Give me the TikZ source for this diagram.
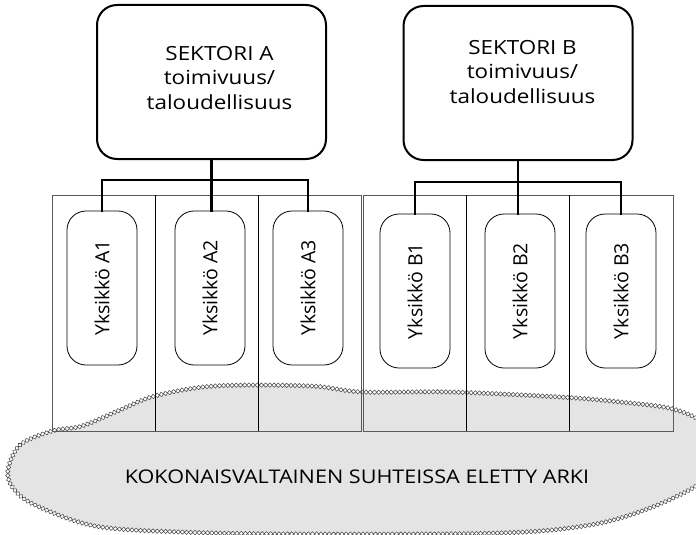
\documentclass[tikz,border=0pt]{standalone}
\usepackage{fontspec}
\setmainfont{Open Sans}
\newfontfamily\widesans[FakeStretch=1.15]{Open Sans}
\usetikzlibrary{decorations.shapes,shapes.geometric}
\definecolor{cloudfill}{HTML}{E4E4E4}
\definecolor{framegray}{HTML}{5A5A5A}
\definecolor{beadgray}{HTML}{4A4A4A}
\begin{document}
\begin{tikzpicture}[x=1pt,y=-1pt,
  sector/.style={draw, line width=2pt, rounded corners=20pt,
    minimum width=229pt, minimum height=154pt, inner sep=0pt},
  sectortext/.style={inner sep=0pt, align=center,
    font=\widesans\fontsize{19.5}{24.5}\selectfont},
  unitbox/.style={draw, line width=0.8pt, rounded corners=19pt,
    minimum width=70pt, minimum height=154pt, inner sep=0pt,
    font=\fontsize{19.5}{22}\selectfont},
  conn/.style={line width=2.6pt, line cap=rect},
  frame/.style={draw=framegray, line width=0.9pt},
  divider/.style={draw=black, line width=0.9pt},
  cloudtext/.style={inner sep=0pt, font=\widesans\fontsize{18.8}{24}\selectfont},
  beads/.style={decorate, decoration={shape backgrounds, shape=diamond,
    shape size=4.4pt, shape sep={4.2pt, between centers}},
    draw=beadgray, fill=white, line width=0.55pt}
]
\useasboundingbox (0,0) rectangle (696,535);

% everyday life cloud underneath
\def\cloudpath{plot[smooth cycle, tension=0.55] coordinates {
  (8,470) (20,445) (52,431) (82,426) (120,410) (155,396) (215,386)
  (310,386) (362,392) (450,392) (560,397) (620,402) (673,409)
  (706,425) (720,455) (702,482) (650,508) (590,525) (500,533)
  (300,534) (180,532) (95,526) (35,505) (13,488)}}
\fill[cloudfill] \cloudpath;
\path[beads] \cloudpath;

% unit columns of the two sectors
\draw[frame] (52,195) rectangle (361,431);
\draw[frame] (363,195) rectangle (673,431);
\draw[divider] (155,195) -- (155,431);
\draw[divider] (258,195) -- (258,431);
\draw[divider] (466,195) -- (466,431);
\draw[divider] (569,195) -- (569,431);

% sectors
\node[sector] (secA) at (211.5,82) {};
\node[sectortext] (secAtext) at (219.5,78) {SEKTORI A\\toimivuus/\\taloudellisuus};
\node[sector] (secB) at (518,83) {};
\node[sectortext] (secBtext) at (522.5,72) {SEKTORI B\\toimivuus/\\taloudellisuus};

% units
\node[unitbox] (a1) at (102,288) {\rotatebox{90}{Yksikkö A1}};
\node[unitbox] (a2) at (210,288) {\rotatebox{90}{Yksikkö A2}};
\node[unitbox] (a3) at (308,288) {\rotatebox{90}{Yksikkö A3}};
\node[unitbox] (b1) at (415,291) {\rotatebox{90}{Yksikkö B1}};
\node[unitbox] (b2) at (520,291) {\rotatebox{90}{Yksikkö B2}};
\node[unitbox] (b3) at (621,291) {\rotatebox{90}{Yksikkö B3}};

% connectors
\coordinate (ja) at (211.5,180);
\coordinate (jb) at (518,182);
\draw[conn] (secA.south) -- (ja);
\draw[conn] (a1.north) -- (a1.north |- ja) -- (a3.north |- ja) -- (a3.north);
\draw[conn] (ja) -- (ja |- a2.north);
\draw[conn] (secB.south) -- (jb);
\draw[conn] (b1.north) -- (b1.north |- jb) -- (b3.north |- jb) -- (b3.north);
\draw[conn] (jb) -- (jb |- b2.north);

\node[cloudtext, anchor=base] (life) at (357,483)
  {KOKONAISVALTAINEN SUHTEISSA ELETTY ARKI};
\end{tikzpicture}
\end{document}
